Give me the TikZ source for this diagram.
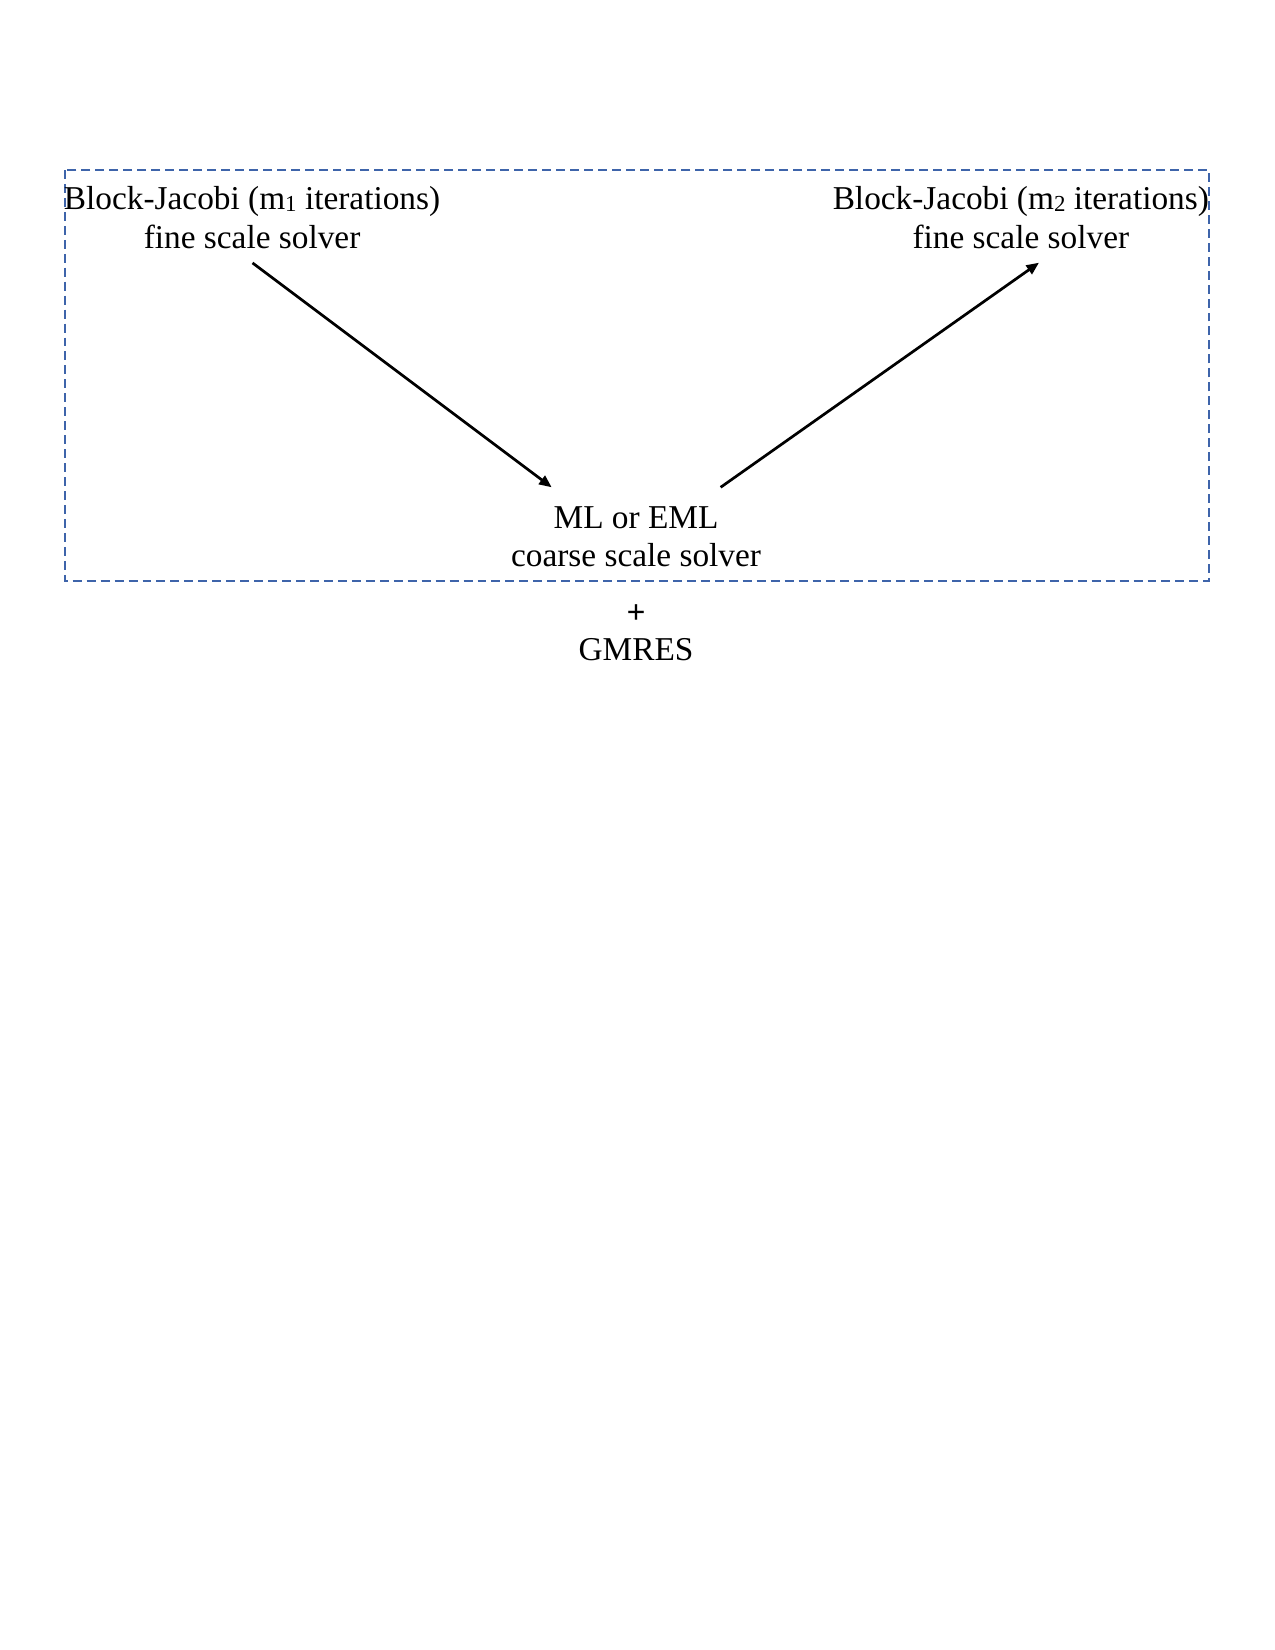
\documentclass[tikz,border=0pt]{standalone}
\usepackage{fontspec}
\setmainfont{Liberation Serif}
\usetikzlibrary{arrows.meta}
\definecolor{frameblue}{RGB}{62,100,170}
% small, slightly lowered index digit
\newcommand{\idx}[1]{\raisebox{-1pt}{\fontsize{11}{12}\selectfont #1}}
\begin{document}
\begin{tikzpicture}[x=1pt,y=-1pt,
  txt/.style={anchor=base,inner sep=0pt,font=\fontsize{16}{18.4}\selectfont},
  flow/.style={line width=1.3pt,-{Triangle[length=6pt,width=5pt]}},
  frame/.style={draw=frameblue,line width=1pt,dash pattern=on 4.3pt off 2.4pt}]
  % page extent
  \useasboundingbox (0,0) rectangle (612,792);
  % dashed frame around the V-cycle
  \draw[frame] (31.2,81.6) rectangle (580.3,278.9);
  % pre-smoothing
  \node[txt] (pre1) at (121,100.7) {Block-Jacobi (m\idx{1} iterations)};
  \node[txt] (pre2) at (121,119.1) {fine scale solver};
  % post-smoothing
  \node[txt] (post1) at (490,100.7) {Block-Jacobi (m\idx{2} iterations)};
  \node[txt] (post2) at (490,119.1) {fine scale solver};
  % coarse correction
  \node[txt] (crs1) at (305.3,253.5) {ML or EML};
  \node[txt] (crs2) at (305.3,271.7) {coarse scale solver};
  % outer Krylov solver
  \node[txt] (plus) at (305.3,299.3) {\textbf{+}};
  \node[txt] (gmres) at (305.3,317) {GMRES};
  % arrow end points
  \coordinate (a1s) at (121.2,126.2);
  \coordinate (a1e) at (264.8,233.9);
  \coordinate (a2s) at (345.9,233.9);
  \coordinate (a2e) at (498.7,126.1);
  \draw[flow] (a1s) -- (a1e);
  \draw[flow] (a2s) -- (a2e);
\end{tikzpicture}
\end{document}
